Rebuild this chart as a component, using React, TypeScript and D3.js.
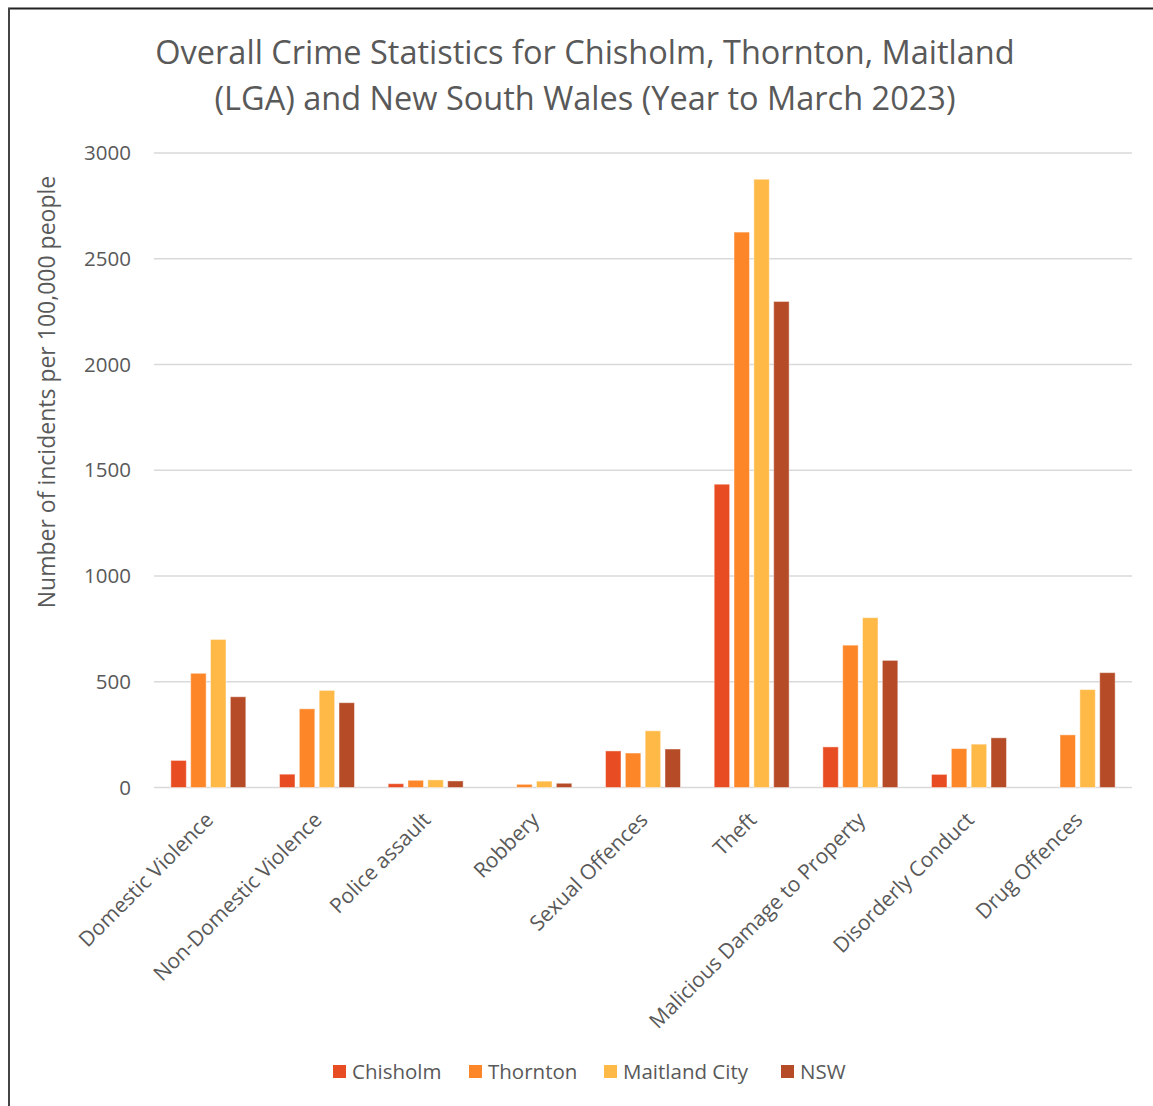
import React from "react";
import * as d3 from "d3";

const categories = [
  "Domestic Violence",
  "Non-Domestic Violence",
  "Police assault",
  "Robbery",
  "Sexual Offences",
  "Theft",
  "Malicious Damage to Property",
  "Disorderly Conduct",
  "Drug Offences",
];
const seriesNames = ["Chisholm", "Thornton", "Maitland City", "NSW"];
const chisholm = [128, 63, 18, 0, 173, 1434, 192, 62, 0];
const thornton = [540, 372, 34, 15, 163, 2626, 673, 184, 249];
const maitland = [700, 459, 36, 30, 268, 2876, 803, 205, 463];
const nsw = [429, 401, 31, 20, 182, 2298, 601, 235, 543];
const seriesValues = [chisholm, thornton, maitland, nsw];
const colors = ["#E84C22", "#FD8628", "#FFB947", "#B54B27"];
const yTicks = [0, 500, 1000, 1500, 2000, 2500, 3000];
const titleLines = [
  "Overall Crime Statistics for Chisholm, Thornton, Maitland",
  "(LGA) and New South Wales (Year to March 2023)",
];
const yTitle = "Number of incidents per 100,000 people";

const FONT = "'Open Sans', sans-serif";
const TEXT = "#595959";

export default function App() {
  const W = 1153;
  const H = 1106;
  const left = 154;
  const right = 1132;
  const top = 153;
  const bottom = 787.5;

  const y = d3.scaleLinear().domain([0, 3000]).range([bottom, top]);
  const x0 = d3
    .scaleBand<string>()
    .domain(categories)
    .range([left, right])
    .paddingInner(0.27)
    .paddingOuter(0.135);
  const x1 = d3
    .scaleBand<string>()
    .domain(seriesNames)
    .range([0, x0.bandwidth()])
    .paddingInner(0.22)
    .paddingOuter(0.11);

  const legendX = [333, 469, 604, 781];

  return (
    <svg
      width={W}
      height={H}
      style={{ display: "block", position: "absolute", left: 0, top: 0 }}
    >
      <rect x={0} y={0} width={W} height={H} fill="#fff" />
      <line x1={8} y1={8.5} x2={W} y2={8.5} stroke="#222" strokeWidth={2} />
      <line x1={9} y1={8} x2={9} y2={H} stroke="#444" strokeWidth={2} />

      {titleLines.map((t, i) => (
        <text
          key={i}
          x={585}
          y={64 + i * 46}
          textAnchor="middle"
          fontFamily={FONT}
          fontSize={32.5}
          fill={TEXT}
        >
          {t}
        </text>
      ))}

      {yTicks.map((t) => (
        <g key={t}>
          <line
            x1={left}
            x2={right}
            y1={y(t)}
            y2={y(t)}
            stroke="#D9D9D9"
            strokeWidth={1.5}
          />
          <text
            x={131}
            y={y(t)}
            dy="0.35em"
            textAnchor="end"
            fontFamily={FONT}
            fontSize={20.5}
            fill={TEXT}
          >
            {t}
          </text>
        </g>
      ))}

      <text
        transform={`translate(55,392) rotate(-90)`}
        textAnchor="middle"
        fontFamily={FONT}
        fontSize={23}
        fill={TEXT}
      >
        {yTitle}
      </text>

      {categories.map((c, ci) => (
        <g key={c} transform={`translate(${x0(c)},0)`}>
          {seriesNames.map((s, si) => {
            const v = seriesValues[si][ci];
            if (!v) return null;
            return (
              <rect
                key={s}
                x={x1(s)}
                y={y(v)}
                width={x1.bandwidth()}
                height={bottom - y(v)}
                fill={colors[si]}
                stroke="#ffffff"
                strokeOpacity={0.45}
                strokeWidth={1}
              />
            );
          })}
        </g>
      ))}

      {categories.map((c) => {
        const cx = (x0(c) as number) + x0.bandwidth() / 2;
        return (
          <text
            key={c}
            transform={`translate(${cx + 1},${816}) rotate(-45)`}
            textAnchor="end"
            dy="0.35em"
            fontFamily={FONT}
            fontSize={21}
            fill={TEXT}
          >
            {c}
          </text>
        );
      })}

      {seriesNames.map((s, i) => (
        <g key={s}>
          <rect x={legendX[i]} y={1065} width={13} height={13} fill={colors[i]} />
          <text
            x={legendX[i] + 19}
            y={1072}
            dy="0.35em"
            fontFamily={FONT}
            fontSize={20.5}
            fill={TEXT}
          >
            {s}
          </text>
        </g>
      ))}
    </svg>
  );
}
